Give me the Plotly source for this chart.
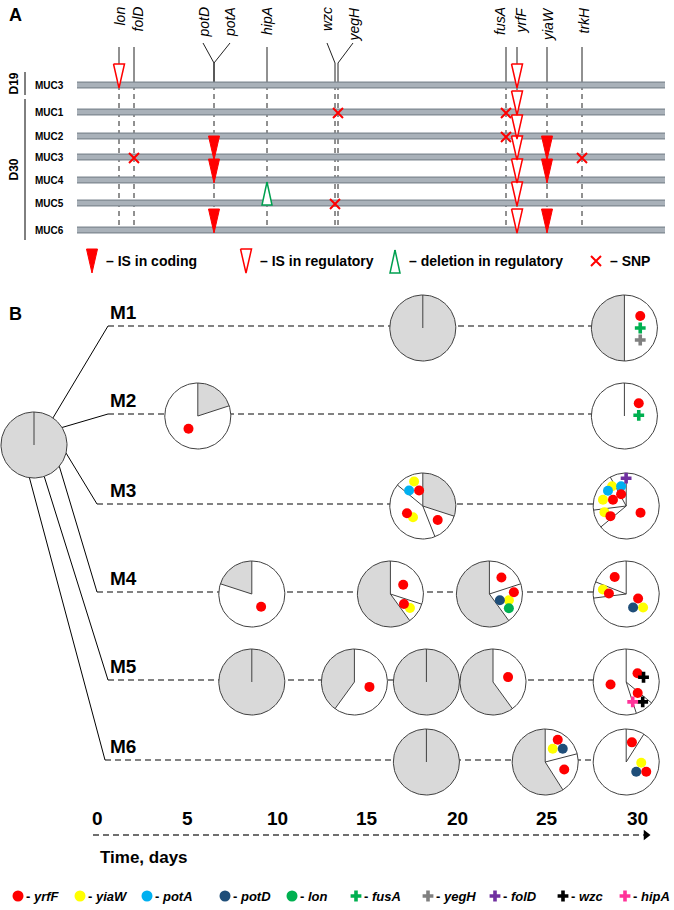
import math
import plotly.graph_objects as go

# ------------------------------------------------------------------
# Panel A data
# ------------------------------------------------------------------
gene_names = ["lon", "folD", "potD", "potA", "hipA", "wzc", "yegH", "fusA", "yrfF", "yiaW", "trkH"]
row_names = ["MUC3", "MUC1", "MUC2", "MUC3", "MUC4", "MUC5", "MUC6"]
row_groups = ["D19", "D30", "D30", "D30", "D30", "D30", "D30"]
# one entry per mutation: strain row index, gene, mutation type
mut_row = [0, 0, 1, 1, 1, 2, 2, 3, 3, 3, 3, 3, 4, 4, 4, 5, 5, 5, 6, 6, 6]
mut_gene = ["lon", "yrfF", "yegH", "fusA", "yrfF", "fusA", "yrfF",
            "folD", "potD", "yrfF", "yiaW", "trkH", "potD", "yrfF", "yiaW",
            "hipA", "wzc", "yrfF", "potD", "yrfF", "yiaW"]
mut_type = ["reg", "reg", "snp", "snp", "reg", "snp", "reg",
            "snp", "cod", "reg", "cod", "snp", "cod", "reg", "cod",
            "del", "snp", "reg", "cod", "reg", "cod"]
legendA_types = ["cod", "reg", "del", "snp"]
legendA_labels = ["– IS in coding", "– IS in regulatory", "– deletion in regulatory", "– SNP"]

# ------------------------------------------------------------------
# Panel B data
# ------------------------------------------------------------------
lineages = ["M1", "M2", "M3", "M4", "M5", "M6"]
pie_lineage = ["M1", "M1", "M2", "M2", "M3", "M3", "M4", "M4", "M4", "M4",
               "M5", "M5", "M5", "M5", "M5", "M6", "M6", "M6"]
pie_day = [18.1, 29.3, 5.6, 29.3, 18.1, 29.4, 8.6, 16.3, 21.8, 29.4,
           8.6, 14.3, 18.3, 22.0, 29.4, 18.3, 24.9, 29.4]
# slice fractions, clockwise from 12 o'clock
pie_fracs = [
    [1.0], [0.5, 0.5],
    [0.2, 0.8], [1.0],
    [0.30, 0.14, 0.42, 0.14], [0.64, 0.09, 0.19, 0.08],
    [0.80, 0.20], [0.30, 0.10, 0.60], [0.20, 0.20, 0.60], [0.73, 0.08, 0.19],
    [1.0], [0.60, 0.40], [1.0], [0.40, 0.60], [0.36, 0.09, 0.55],
    [1.0], [0.21, 0.20, 0.59], [0.09, 0.91],
]
# g = ancestral (grey), w = mutant subpopulation (white)
pie_states = [
    ["g"], ["w", "g"],
    ["g", "w"], ["w"],
    ["g", "w", "w", "w"], ["w", "w", "w", "w"],
    ["w", "g"], ["w", "w", "g"], ["w", "w", "g"], ["w", "w", "w"],
    ["g"], ["w", "g"], ["g"], ["w", "g"], ["w", "w", "w"],
    ["g"], ["w", "w", "g"], ["w", "w"],
]
pie_muts = [
    [[]], [["yrfF", "fusA", "yegH"], []],
    [[], ["yrfF"]], [["yrfF", "fusA"]],
    [[], ["yrfF"], ["yrfF", "yiaW"], ["yiaW", "potA", "yrfF"]],
    [["yrfF"], ["yiaW", "yrfF"], ["potA", "yiaW", "yrfF"], ["folD", "potA", "yiaW", "yrfF"]],
    [["yrfF"], []], [["yrfF"], ["yrfF", "yiaW"], []],
    [["yrfF"], ["yrfF", "yiaW", "potD", "lon"], []],
    [["yrfF", "potD", "yiaW"], ["yiaW", "yrfF"], ["yrfF"]],
    [[]], [["yrfF"], []], [[]], [["yrfF"], []],
    [["yrfF", "wzc"], ["yrfF", "hipA", "wzc"], ["yrfF"]],
    [[]], [["yrfF", "yiaW", "potD"], ["yrfF"], []],
    [["yrfF"], ["yiaW", "potD", "yrfF"]],
]
time_ticks = [0, 5, 10, 15, 20, 25, 30]
mut_legend = ["yrfF", "yiaW", "potA", "potD", "lon", "fusA", "yegH", "folD", "wzc", "hipA"]

# ------------------------------------------------------------------
# Layout / style (pixel canvas)
# ------------------------------------------------------------------
W, H = 674, 910
FONT = "Arial, Liberation Sans, sans-serif"
GENE_X = {"lon": 119, "folD": 134, "potD": 214, "potA": 214, "hipA": 267, "wzc": 335,
          "yegH": 338, "fusA": 506, "yrfF": 517, "yiaW": 547, "trkH": 582}
GENE_LABEL_X = {"lon": 119, "folD": 137, "potD": 203, "potA": 230, "hipA": 267, "wzc": 327,
                "yegH": 353, "fusA": 500, "yrfF": 520, "yiaW": 548, "trkH": 583}
ROW_Y = [85, 112, 136, 157, 180, 203, 230]
BAR_X0, BAR_X1 = 77, 665

MUT_STYLE = {
    "yrfF": ("circle", "#ff0000"), "yiaW": ("circle", "#ffff00"), "potA": ("circle", "#00b0f0"),
    "potD": ("circle", "#1f4e79"), "lon": ("circle", "#00b050"), "fusA": ("cross", "#00b050"),
    "yegH": ("cross", "#808080"), "folD": ("cross", "#7030a0"), "wzc": ("cross", "#000000"),
    "hipA": ("cross", "#ff3399"),
}
PIE_Y = {"M1": 328, "M2": 416, "M3": 506, "M4": 594, "M5": 682, "M6": 762}
LINE_START = {"M1": 108, "M2": 108, "M3": 97, "M4": 97, "M5": 108, "M6": 105}
ROOT_ANGLE = {"M1": 35, "M2": 58, "M3": 104, "M4": 130, "M5": 162, "M6": 188}
ROOT_C = (34, 445)
ROOT_R = 33
R = 33
X0, KX = 97, 18.0


def day_x(d):
    return X0 + KX * d


fig = go.Figure()
ann = []


def add_line(xs, ys, color="#000", width=1, dash="solid"):
    fig.add_trace(go.Scatter(x=xs, y=ys, mode="lines", hoverinfo="skip",
                             line=dict(color=color, width=width, dash=dash)))


def text(x, y, s, size=12, xanchor="center", yanchor="middle", angle=0, color="#000"):
    ann.append(dict(x=x, y=y, xref="x", yref="y", text=s, showarrow=False, textangle=angle,
                    xanchor=xanchor, yanchor=yanchor, font=dict(family=FONT, size=size, color=color)))


# ======================= Panel A =======================
text(7, 15, "<b>A</b>", size=18, xanchor="left")

for g in gene_names:
    text(GENE_LABEL_X[g], 5, "<i>%s</i>" % g, size=14, angle=-90, yanchor="top")
solid_x, solid_y = [], []
for g in ["lon", "folD", "hipA", "fusA", "yrfF", "yiaW", "trkH"]:
    solid_x += [GENE_X[g], GENE_X[g], None]
    solid_y += [47, ROW_Y[0], None]
for g in ["potD", "potA", "wzc", "yegH"]:
    solid_x += [GENE_LABEL_X[g], GENE_X[g], GENE_X[g], None]
    solid_y += [43, 63, ROW_Y[0], None]
add_line(solid_x, solid_y, color="#222", width=1)
dash_x, dash_y = [], []
for g in ["lon", "folD", "potD", "hipA", "wzc", "yegH", "fusA", "yrfF", "yiaW", "trkH"]:
    dash_x += [GENE_X[g], GENE_X[g], None]
    dash_y += [ROW_Y[0], ROW_Y[-1], None]
add_line(dash_x, dash_y, color="#222", width=1, dash="5px,4px")

bx, by = [], []
for y in ROW_Y:
    bx += [BAR_X0, BAR_X1, None]
    by += [y, y, None]
add_line(bx, by, color="#7f8891", width=7)
add_line(bx, by, color="#a9b1b9", width=4.5)
for name, y in zip(row_names, ROW_Y):
    text(33, y, "<b>%s</b>" % name, size=10, xanchor="left")
for grp in ["D19", "D30"]:
    ys = [y for y, gg in zip(ROW_Y, row_groups) if gg == grp]
    y0, y1 = min(ys) - 13, max(ys) + 10
    add_line([25, 25], [y0, y1], color="#000", width=1)
    text(13, (y0 + y1) / 2, "<b>%s</b>" % grp, size=12, angle=-90)


def tri_points(x, y, kind):
    if kind == "del":
        return [x, x - 5, x + 5, x, None], [y - 21, y + 2, y + 2, y - 21, None]
    return [x - 5.5, x + 5.5, x, x - 5.5, None], [y - 21, y - 21, y + 3, y - 21, None]


def draw_mutations(xs, ys, kinds):
    groups = {"cod": ([], []), "reg": ([], []), "del": ([], []), "snp": ([], [])}
    for x, y, k in zip(xs, ys, kinds):
        if k == "snp":
            groups[k][0].append(x)
            groups[k][1].append(y + 1)
        else:
            px, py = tri_points(x, y, k)
            groups[k][0].extend(px)
            groups[k][1].extend(py)
    fig.add_trace(go.Scatter(x=groups["cod"][0], y=groups["cod"][1], mode="lines", fill="toself",
                             fillcolor="#ff0000", line=dict(color="#ff0000", width=1), hoverinfo="skip"))
    fig.add_trace(go.Scatter(x=groups["reg"][0], y=groups["reg"][1], mode="lines", fill="toself",
                             fillcolor="#ffffff", line=dict(color="#ff0000", width=1.5), hoverinfo="skip"))
    fig.add_trace(go.Scatter(x=groups["del"][0], y=groups["del"][1], mode="lines", fill="toself",
                             fillcolor="#ffffff", line=dict(color="#00a050", width=1.5), hoverinfo="skip"))
    fig.add_trace(go.Scatter(x=groups["snp"][0], y=groups["snp"][1], mode="markers", hoverinfo="skip",
                             marker=dict(symbol="x-thin", size=10, line=dict(color="#ff0000", width=2))))


draw_mutations([GENE_X[g] for g in mut_gene], [ROW_Y[r] for r in mut_row], mut_type)

LEGA_X = [92, 246, 395, 596]
LEGA_Y = 261
draw_mutations(LEGA_X, [LEGA_Y + 9, LEGA_Y + 9, LEGA_Y + 10, LEGA_Y - 1], legendA_types)
for x, lab in zip(LEGA_X, legendA_labels):
    text(x + 12, LEGA_Y, "<b>%s</b>" % lab, size=14, xanchor="left")

# ======================= Panel B =======================
text(7, 314, "<b>B</b>", size=18, xanchor="left")

for m in lineages:
    ly = PIE_Y[m] - 2
    days = [d for d, l in zip(pie_day, pie_lineage) if l == m]
    add_line([LINE_START[m], day_x(max(days))], [ly, ly], color="#595959", width=1.5, dash="6px,4px")
    a = math.radians(ROOT_ANGLE[m])
    ex, ey = ROOT_C[0] + ROOT_R * math.sin(a), ROOT_C[1] - ROOT_R * math.cos(a)
    add_line([ex, LINE_START[m]], [ey, ly], color="#000", width=1)
    text(108, ly - 14, "<b>%s</b>" % m, size=19, xanchor="left")

gx, gy, wx, wy, rx, ry, ox, oy = [], [], [], [], [], [], [], []
mk = {g: ([], []) for g in mut_legend}

PATTERN = {
    1: [(0, 0)],
    2: [(-3, -2), (3, 2)],
    3: [(0, -6), (-5, 3), (5, 3)],
    4: [(5, -8), (0, 0), (-9, 0), (0, 8)],
}


def cluster_offsets(ms, span):
    if span >= 180 and any(MUT_STYLE[g][0] == "cross" for g in ms):
        n = len(ms)
        return [(0, 12 * (i - (n - 1) / 2)) for i in range(n)]
    return PATTERN[len(ms)]


def pie(cx, cy, fracs, states, muts, r=R):
    a = 0.0
    for f, s, ms in zip(fracs, states, muts):
        a0, a1 = a, a + 360 * f
        n = max(2, int((a1 - a0) / 3))
        px = [cx] + [cx + r * math.sin(math.radians(a0 + (a1 - a0) * i / n)) for i in range(n + 1)] + [cx, None]
        py = [cy] + [cy - r * math.cos(math.radians(a0 + (a1 - a0) * i / n)) for i in range(n + 1)] + [cy, None]
        if s == "g":
            gx.extend(px); gy.extend(py)
        else:
            wx.extend(px); wy.extend(py)
        rx.extend([cx, cx + r * math.sin(math.radians(a0)), None])
        ry.extend([cy, cy - r * math.cos(math.radians(a0)), None])
        if ms:
            span = a1 - a0
            if span >= 359:
                mid, rr = 65, 0.48 * r
            elif span > 300:
                mid, rr = a0 + 0.25 * span, 0.5 * r
            else:
                mid, rr = (a0 + a1) / 2, r * (0.48 if span >= 90 else 0.62)
            ccx = cx + rr * math.sin(math.radians(mid))
            ccy = cy - rr * math.cos(math.radians(mid))
            for g, (dx, dy) in zip(ms, cluster_offsets(ms, span)):
                mk[g][0].append(ccx + dx)
                mk[g][1].append(ccy + dy)
        a = a1
    ox.extend([cx + r * math.sin(math.radians(t)) for t in range(0, 361, 3)] + [None])
    oy.extend([cy - r * math.cos(math.radians(t)) for t in range(0, 361, 3)] + [None])


pie(ROOT_C[0], ROOT_C[1], [1.0], ["g"], [[]], r=ROOT_R)
for l, d, fr, st, ms in zip(pie_lineage, pie_day, pie_fracs, pie_states, pie_muts):
    pie(day_x(d), PIE_Y[l], fr, st, ms)

fig.add_trace(go.Scatter(x=gx, y=gy, mode="lines", fill="toself", fillcolor="#d9d9d9",
                         line=dict(width=0, color="#d9d9d9"), hoverinfo="skip"))
fig.add_trace(go.Scatter(x=wx, y=wy, mode="lines", fill="toself", fillcolor="#ffffff",
                         line=dict(width=0, color="#ffffff"), hoverinfo="skip"))
add_line(rx, ry, color="#404040", width=1)
add_line(ox, oy, color="#404040", width=1)

draw_order = ["yiaW", "potA", "potD", "lon", "yrfF", "fusA", "yegH", "folD", "wzc", "hipA"]
for g in draw_order:
    sym, col = MUT_STYLE[g]
    xs, ys = mk[g]
    if sym == "circle":
        marker = dict(symbol="circle", size=10, color=col, line=dict(width=0))
    else:
        marker = dict(symbol="cross", size=9, color=col, line=dict(width=0))
    fig.add_trace(go.Scatter(x=xs, y=ys, mode="markers", marker=marker, hoverinfo="skip"))

for t in time_ticks:
    text(day_x(t), 818, "<b>%d</b>" % t, size=19)
add_line([93, 644], [835, 835], color="#404040", width=1.5, dash="6px,4px")
fig.add_trace(go.Scatter(x=[646], y=[835], mode="markers", hoverinfo="skip",
                         marker=dict(symbol="triangle-right", size=9, color="#000")))
text(98, 857, "<b>Time, days</b>", size=17, xanchor="left")

LEGB_X = [18, 80, 147, 225, 292, 356, 428, 495, 563, 625]
LEGB_Y = 896
for g, x in zip(mut_legend, LEGB_X):
    sym, col = MUT_STYLE[g]
    fig.add_trace(go.Scatter(x=[x], y=[LEGB_Y], mode="markers", hoverinfo="skip",
                             marker=dict(symbol=sym, size=11 if sym == "circle" else 9, color=col)))
    text(x + 6, LEGB_Y, "<b>- <i>%s</i></b>" % g, size=13, xanchor="left")

fig.update_layout(
    width=W, height=H, autosize=False, showlegend=False,
    margin=dict(l=0, r=0, t=0, b=0),
    paper_bgcolor="white", plot_bgcolor="white",
    xaxis=dict(range=[0, W], visible=False, fixedrange=True),
    yaxis=dict(range=[H, 0], visible=False, fixedrange=True),
    annotations=ann,
)
fig.write_html("out.html", config={"displayModeBar": False, "staticPlot": True},
               post_script="document.body.style.margin='0px';document.body.style.overflow='hidden';")
